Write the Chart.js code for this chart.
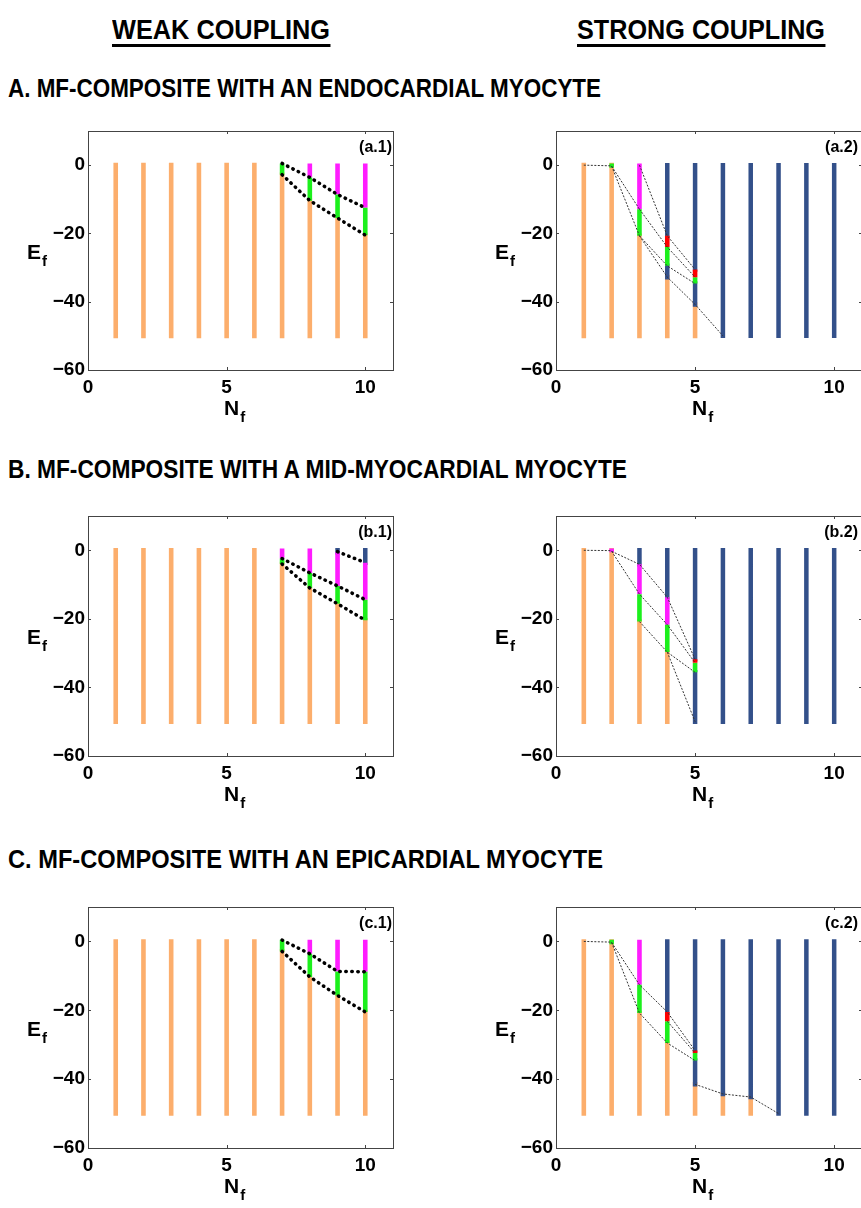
<!DOCTYPE html>
<html>
<head>
<meta charset="utf-8">
<script src="https://cdn.jsdelivr.net/npm/chart.js@4.4.1/dist/chart.umd.min.js"></script>
<style>
html, body { margin: 0; padding: 0; background: #fff; overflow: hidden; width: 861px; height: 1208px; }
body { position: relative; font-family: "Liberation Sans", Arial, sans-serif; font-weight: bold; color: #000; }
canvas { position: absolute; }
.txt { position: absolute; white-space: nowrap; line-height: 1; transform-origin: 0 0; }
.head { font-size: 27px; border-bottom: 3px solid #000; padding-bottom: 0px; }
.sect { font-size: 25px; }
.lab { font-size: 21px; }
.lab span { font-size: 15px; position: relative; top: 7px; margin-left: 1px; }
.tag { font-size: 16px; }
</style>
</head>
<body>
<div class="txt head fit" data-w="218" style="left:112px; top:17px">WEAK COUPLING</div>
<div class="txt head fit" data-w="248" style="left:577px; top:17px">STRONG COUPLING</div>
<div class="txt sect fit" data-w="593" style="left:8px; top:76px">A. MF-COMPOSITE WITH AN ENDOCARDIAL MYOCYTE</div>
<div class="txt sect fit" data-w="619" style="left:8px; top:457px">B. MF-COMPOSITE WITH A MID-MYOCARDIAL MYOCYTE</div>
<div class="txt sect fit" data-w="595" style="left:8px; top:847px">C. MF-COMPOSITE WITH AN EPICARDIAL MYOCYTE</div>

<script>
// segments are [N_f, top E_f, bottom E_f]; lines are polylines of [N_f, E_f]

// (a.1) weak coupling, endocardial
const a1Orange = [[1,0,-50],[2,0,-50],[3,0,-50],[4,0,-50],[5,0,-50],[6,0,-50],[7,-2.8,-50],[8,-10.4,-50],[9,-15.5,-50],[10,-20.5,-50]];
const a1Green = [[7,0.5,-2.8],[8,-3.6,-10.4],[9,-8.6,-15.5],[10,-12.5,-20.5]];
const a1Magenta = [[8,0.5,-3.6],[9,0.5,-8.6],[10,0.5,-12.5]];
const a1Lines = [[[7,0.5],[8,-3.6],[9,-8.6],[10,-12.5]], [[7,-2.8],[8,-10.4],[9,-15.5],[10,-20.5]]];

// (a.2) strong coupling, endocardial
const a2Orange = [[1,0,-50],[2,0,-50],[3,-20.7,-50],[4,-32.8,-50],[5,-40.8,-50]];
const a2Blue = [[4,0,-20.7],[4,-29.5,-32.8],[5,0,-30.6],[5,-34.7,-40.8],[6,0,-50],[7,0,-50],[8,0,-50],[9,0,-50],[10,0,-50]];
const a2Magenta = [[3,0.5,-12.9]];
const a2Green = [[2,0.5,-0.8],[3,-12.9,-20.7],[4,-24,-29.5],[5,-32.8,-34.7]];
const a2Red = [[4,-20.7,-24],[5,-30.6,-32.8]];
const a2Lines = [
  [[1,0],[2,-0.2]],
  [[2,-0.3],[3,-12.9]],
  [[2,-0.3],[3,-20.7]],
  [[3,0],[4,-20.7],[5,-30.6]],
  [[3,-12.9],[4,-24],[5,-32.8]],
  [[3,-20.7],[4,-29.5],[5,-34.7]],
  [[3,-20.7],[4,-32.8],[5,-40.8],[6,-50]]
];

// (b.1) weak coupling, mid-myocardial
const b1Orange = [[1,0,-50],[2,0,-50],[3,0,-50],[4,0,-50],[5,0,-50],[6,0,-50],[7,-4,-50],[8,-11,-50],[9,-15.6,-50],[10,-20.4,-50]];
const b1Blue = [[9,0,-0.6],[10,0,-3.6]];
const b1Magenta = [[7,0.5,-2.4],[8,0.5,-6.6],[9,-0.6,-10.4],[10,-3.6,-14.4]];
const b1Green = [[7,-2.4,-4],[8,-6.6,-11],[9,-10.4,-15.6],[10,-14.4,-20.4]];
const b1Lines = [[[9,-0.4],[10,-3.6]], [[7,-2.4],[8,-6.6],[9,-10.4],[10,-14.4]], [[7,-4],[8,-11],[9,-15.6],[10,-20.4]]];

// (b.2) strong coupling, mid-myocardial
const b2Orange = [[1,0,-50],[2,0,-50],[3,-20.8,-50],[4,-29.7,-50]];
const b2Blue = [[3,0,-4.1],[4,0,-13.7],[5,0,-31.8],[5,-35.6,-50],[6,0,-50],[7,0,-50],[8,0,-50],[9,0,-50],[10,0,-50]];
const b2Magenta = [[2,0.5,-0.6],[3,-4.1,-12.8],[4,-13.7,-21.7]];
const b2Green = [[3,-12.8,-20.8],[4,-21.7,-29.7],[5,-32.8,-35.6]];
const b2Red = [[5,-31.8,-32.8]];
const b2Lines = [
  [[1,0],[2,-0.1]],
  [[2,-0.3],[3,-4.1],[4,-13.7],[5,-31.8]],
  [[2,-0.3],[3,-12.8],[4,-21.7],[5,-32.8]],
  [[3,-20.8],[4,-29.7],[5,-35.6]],
  [[4,-29.7],[5,-50]]
];

// (c.1) weak coupling, epicardial
const c1Orange = [[1,0,-50],[2,0,-50],[3,0,-50],[4,0,-50],[5,0,-50],[6,0,-50],[7,-2.9,-50],[8,-10.3,-50],[9,-15.7,-50],[10,-20.5,-50]];
const c1Green = [[7,0.5,-2.9],[8,-3.6,-10.3],[9,-8.7,-15.7],[10,-8.8,-20.5]];
const c1Magenta = [[8,0.5,-3.6],[9,0.5,-8.7],[10,0.5,-8.8]];
const c1Lines = [[[7,0.4],[8,-3.6],[9,-8.7],[10,-8.8]], [[7,-2.9],[8,-10.3],[9,-15.7],[10,-20.5]]];

// (c.2) strong coupling, epicardial
const c2Orange = [[1,0,-50],[2,0,-50],[3,-20.8,-50],[4,-29.5,-50],[5,-41.5,-50],[6,-44.3,-50],[7,-45.2,-50]];
const c2Blue = [[4,0,-20.5],[5,0,-31.7],[5,-34.6,-41.5],[6,0,-44.3],[7,0,-45.2],[8,0,-50],[9,0,-50],[10,0,-50]];
const c2Magenta = [[3,0.5,-12.6]];
const c2Green = [[2,0.5,-0.8],[3,-12.6,-20.8],[4,-23.2,-29.5],[5,-32.4,-34.6]];
const c2Red = [[4,-20.5,-23.2],[5,-31.7,-32.4]];
const c2Lines = [
  [[1,0],[2,-0.2]],
  [[2,-0.3],[3,-12.6],[4,-20.5],[5,-31.7]],
  [[2,-0.3],[3,-20.8],[4,-29.5],[5,-34.6]],
  [[4,-23.2],[5,-32.4]],
  [[5,-41.5],[6,-44.3],[7,-45.2],[8,-50]]
];

const xTicks = [0, 5, 10];
const yTicks = [-60, -40, -20, 0];

const colors = { orange: '#fcae6c', blue: '#33508a', magenta: '#ff1cff', green: '#1cf01c', red: '#ff0000' };
const font = '"Liberation Sans", Arial, sans-serif';

const rows = [ { top: 131, bottom: 370 }, { top: 516, bottom: 756 }, { top: 907, bottom: 1148 } ];
const cols = [ { canvasLeft: 0, plotLeft: 88, plotRight: 393 }, { canvasLeft: 460, plotLeft: 556, plotRight: 862 } ];

const panels = [
  { tag: '(a.1)', row: 0, col: 0, weak: true, segs: { orange: a1Orange, green: a1Green, magenta: a1Magenta }, lines: a1Lines },
  { tag: '(a.2)', row: 0, col: 1, weak: false, segs: { orange: a2Orange, blue: a2Blue, magenta: a2Magenta, green: a2Green, red: a2Red }, lines: a2Lines },
  { tag: '(b.1)', row: 1, col: 0, weak: true, segs: { orange: b1Orange, blue: b1Blue, magenta: b1Magenta, green: b1Green }, lines: b1Lines },
  { tag: '(b.2)', row: 1, col: 1, weak: false, segs: { orange: b2Orange, blue: b2Blue, magenta: b2Magenta, green: b2Green, red: b2Red }, lines: b2Lines },
  { tag: '(c.1)', row: 2, col: 0, weak: true, segs: { orange: c1Orange, green: c1Green, magenta: c1Magenta }, lines: c1Lines },
  { tag: '(c.2)', row: 2, col: 1, weak: false, segs: { orange: c2Orange, blue: c2Blue, magenta: c2Magenta, green: c2Green, red: c2Red }, lines: c2Lines }
];

function segPoints(list) {
  const pts = [];
  list.forEach(([n, top, bottom]) => {
    pts.push({ x: n, y: top }, { x: n, y: bottom }, { x: n, y: null });
  });
  return pts;
}

function linePoints(list) {
  const pts = [];
  list.forEach(line => {
    line.forEach(([n, e]) => pts.push({ x: n, y: e }));
    pts.push({ x: line[line.length - 1][0], y: null });
  });
  return pts;
}

// matlab style box with small inward ticks
const framePlugin = {
  id: 'frame',
  afterDatasetsDraw(chart) {
    const { ctx, chartArea: a, scales } = chart;
    ctx.save();
    ctx.strokeStyle = '#444';
    ctx.lineWidth = 1;
    ctx.strokeRect(Math.round(a.left) + 0.5, Math.round(a.top) + 0.5, Math.round(a.right - a.left), Math.round(a.bottom - a.top));
    ctx.beginPath();
    xTicks.forEach(v => {
      const px = Math.round(scales.x.getPixelForValue(v)) + 0.5;
      ctx.moveTo(px, a.bottom); ctx.lineTo(px, a.bottom - 3);
      ctx.moveTo(px, a.top); ctx.lineTo(px, a.top + 3);
    });
    yTicks.forEach(v => {
      const py = Math.round(scales.y.getPixelForValue(v)) + 0.5;
      ctx.moveTo(a.left, py); ctx.lineTo(a.left + 3, py);
      ctx.moveTo(a.right, py); ctx.lineTo(a.right - 3, py);
    });
    ctx.stroke();
    ctx.restore();
  }
};

function addText(cls, html, left, top, right) {
  const el = document.createElement('div');
  el.className = 'txt ' + cls;
  el.innerHTML = html;
  el.style.top = top + 'px';
  if (right !== undefined) el.style.right = right + 'px';
  else el.style.left = left + 'px';
  document.body.appendChild(el);
}

panels.forEach(p => {
  const r = rows[p.row], c = cols[p.col];
  const padTop = 20, xAxisH = 30, padRight = 27;
  const canvas = document.createElement('canvas');
  const w = c.plotRight + padRight - c.canvasLeft;
  const h = padTop + (r.bottom - r.top) + xAxisH;
  canvas.width = w; canvas.height = h;
  canvas.style.left = c.canvasLeft + 'px';
  canvas.style.top = (r.top - padTop) + 'px';
  document.body.appendChild(canvas);

  const datasets = [{
    data: linePoints(p.lines),
    showLine: true,
    borderColor: p.weak ? '#000' : '#333',
    borderWidth: p.weak ? 3.5 : 1,
    borderDash: p.weak ? [0.5, 5.5] : [2, 1.5],
    borderCapStyle: p.weak ? 'round' : 'butt',
    pointRadius: 0
  }];
  ['red', 'green', 'magenta', 'blue', 'orange'].forEach(k => {
    if (!p.segs[k]) return;
    const base = k === 'blue' || k === 'orange';
    datasets.push({
      data: segPoints(p.segs[k]),
      showLine: true,
      borderColor: colors[k],
      borderWidth: k === 'blue' ? 4.5 : 4.6,
      borderCapStyle: base ? 'square' : 'butt',
      pointRadius: 0
    });
  });

  new Chart(canvas.getContext('2d'), {
    type: 'scatter',
    data: { datasets: datasets },
    options: {
      responsive: false,
      animation: false,
      events: [],
      layout: { padding: { top: padTop, right: padRight, left: 0, bottom: 0 } },
      plugins: { legend: { display: false }, tooltip: { enabled: false } },
      elements: { line: { tension: 0 } },
      scales: {
        x: {
          type: 'linear', min: 0, max: 11,
          grid: { display: false, drawTicks: false },
          border: { display: false },
          ticks: { stepSize: 5, includeBounds: false, padding: 6, maxRotation: 0, color: '#000', font: { family: font, size: 19, weight: 'bold' } },
          afterFit: s => { s.height = xAxisH; }
        },
        y: {
          type: 'linear', min: -60, max: 10,
          grid: { display: false, drawTicks: false },
          border: { display: false },
          ticks: {
            stepSize: 20, includeBounds: false, padding: 3, color: '#000', font: { family: font, size: 19, weight: 'bold' },
            callback: v => v < 0 ? '\u2212' + (-v) : String(v)
          },
          afterFit: s => { s.width = c.plotLeft - c.canvasLeft; }
        }
      }
    },
    plugins: [framePlugin]
  });

  const mid = (r.top + r.bottom) / 2;
  addText('lab', 'E<span>f</span>', c.plotLeft - 61, Math.round(mid - 10));
  addText('lab', 'N<span>f</span>', c.plotLeft + 136, r.bottom + 27);
  addText('tag', p.tag, 0, r.top + 8, 861 - (c.plotRight - (p.col ? 4 : 1)));
});

document.querySelectorAll('.fit').forEach(el => {
  const target = +el.dataset.w;
  el.style.transform = 'scaleX(' + (target / el.getBoundingClientRect().width) + ')';
});
</script>
</body>
</html>
